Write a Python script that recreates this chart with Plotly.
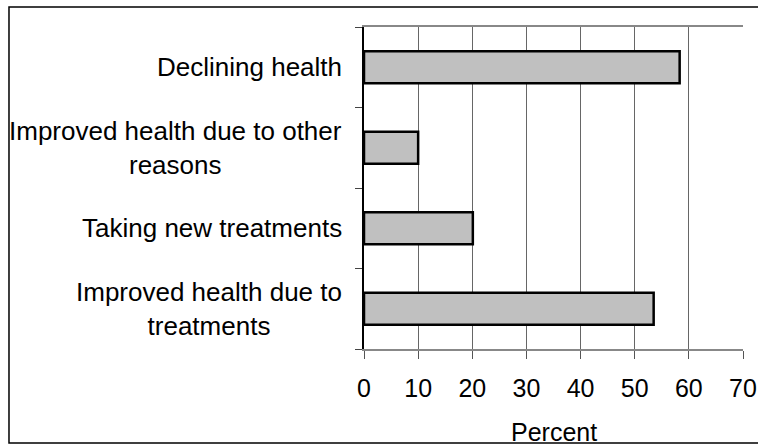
import plotly.graph_objects as go

# data, bottom to top as plotly draws categories
categories = ["Improved health due to treatments", "Taking new treatments",
              "Improved health due to other reasons", "Declining health"]
labels = ["Improved health due to<br>treatments", "Taking new treatments",
          "Improved health due to other<br>reasons", "Declining health"]
percent = [53.5, 20.1, 10.0, 58.3]
x_ticks = [0, 10, 20, 30, 40, 50, 60, 70]

font = "Liberation Sans, Arial, sans-serif"

fig = go.Figure(go.Bar(
    y=categories, x=percent, orientation="h", width=0.4,
    marker=dict(color="#c0c0c0", line=dict(color="black", width=2.5)),
))

# category labels, centred text like the original
for cat, lab in zip(categories, labels):
    fig.add_annotation(x=-0.053, y=cat, xref="paper", yref="y", text=lab,
                       showarrow=False, xanchor="right", align="center",
                       font=dict(size=26, color="black", family=font))

# x axis title, sits lower than plotly's margin-bound title would allow
fig.add_annotation(x=0.5, y=-0.208, xref="paper", yref="paper", text="Percent",
                   showarrow=False, xanchor="center", yanchor="top",
                   font=dict(size=25, color="black", family=font))

# outer frame (right side runs off the picture)
fig.add_shape(type="rect", xref="paper", yref="paper",
              x0=-0.9367, x1=1.5, y0=-0.2919, y1=1.0621,
              line=dict(color="black", width=1.5))

fig.update_layout(
    width=758, height=445,
    margin=dict(l=364, r=15, t=27, b=96),
    plot_bgcolor="white", paper_bgcolor="white",
    showlegend=False,
    font=dict(family=font, size=25, color="black"),
)

fig.update_xaxes(range=[0, 70], tickvals=x_ticks, ticks="outside", ticklen=8,
                 tickcolor="#555", showgrid=True, gridcolor="#666", gridwidth=1,
                 showline=True, linecolor="#888", linewidth=2, mirror=True,
                 zeroline=False, ticklabelstandoff=8, automargin=False)

fig.update_yaxes(showticklabels=False, ticks="outside", ticklen=7, tickson="boundaries",
                 tickcolor="#444", showline=True, linecolor="black", linewidth=1.5,
                 showgrid=False, range=[-0.5, 3.5], automargin=False)

# drop the default body margin so the figure fills the window exactly
fig.write_html("out.html", config={"displayModeBar": False},
               post_script="document.body.style.margin='0';")
